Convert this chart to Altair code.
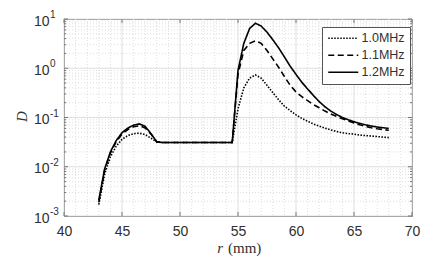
import altair as alt
import pandas as pd

# ---------------- data ----------------
r_mm = [43.0, 43.5, 44.0, 44.5, 45.0, 45.5, 46.0, 46.5, 47.0, 47.5,
        48.0, 48.5, 49.0, 49.5, 50.0, 50.5, 51.0, 51.5, 52.0, 52.5,
        53.0, 53.5, 54.0, 54.5, 55.0, 55.5, 56.0, 56.5, 57.0, 57.5,
        58.0, 58.5, 59.0, 59.5, 60.0, 60.5, 61.0, 61.5, 62.0, 62.5,
        63.0, 63.5, 64.0, 64.5, 65.0, 65.5, 66.0, 66.5, 67.0, 67.5, 68.0]

d_10 = [0.0017, 0.0070, 0.016, 0.026, 0.036, 0.043, 0.047, 0.048, 0.045, 0.038,
        0.032, 0.031, 0.031, 0.031, 0.031, 0.031, 0.031, 0.031, 0.031, 0.031,
        0.031, 0.031, 0.031, 0.031, 0.15, 0.40, 0.63, 0.73, 0.63, 0.45,
        0.32, 0.23, 0.17, 0.138, 0.113, 0.096, 0.084, 0.074, 0.067, 0.061,
        0.056, 0.052, 0.049, 0.047, 0.046, 0.044, 0.043, 0.042, 0.041, 0.040, 0.039]

d_11 = [0.0019, 0.0085, 0.019, 0.032, 0.046, 0.057, 0.065, 0.068, 0.061, 0.046,
        0.032, 0.031, 0.031, 0.031, 0.031, 0.031, 0.031, 0.031, 0.031, 0.031,
        0.031, 0.031, 0.031, 0.031, 0.75, 2.3, 3.2, 3.6, 3.2, 2.3,
        1.55, 1.05, 0.68, 0.45, 0.33, 0.265, 0.22, 0.183, 0.158, 0.135,
        0.118, 0.105, 0.094, 0.085, 0.077, 0.071, 0.066, 0.062, 0.059, 0.057, 0.055]

d_12 = [0.0021, 0.0090, 0.020, 0.034, 0.049, 0.061, 0.070, 0.074, 0.066, 0.047,
        0.032, 0.031, 0.031, 0.031, 0.031, 0.031, 0.031, 0.031, 0.031, 0.031,
        0.031, 0.031, 0.031, 0.031, 0.9, 3.2, 6.4, 8.2, 7.2, 5.4,
        3.8, 2.6, 1.7, 1.1, 0.75, 0.52, 0.38, 0.28, 0.21, 0.165,
        0.135, 0.115, 0.100, 0.090, 0.082, 0.076, 0.071, 0.067, 0.064, 0.062, 0.060]

series_names = ["1.0MHz", "1.1MHz", "1.2MHz"]

x_major = [40, 45, 50, 55, 60, 65, 70]
x_minor = [41, 42, 43, 44, 46, 47, 48, 49, 51, 52, 53, 54,
           56, 57, 58, 59, 61, 62, 63, 64, 66, 67, 68, 69]
y_major = [0.001, 0.01, 0.1, 1, 10]
y_exp = ["-3", "-2", "-1", "0", "1"]
y_minor = [m * 10.0 ** k for k in (-3, -2, -1, 0) for m in range(2, 10)]

# ---------------- tables ----------------
rows = []
for name, vals in zip(series_names, [d_10, d_11, d_12]):
    for r, d in zip(r_mm, vals):
        rows.append({"r": r, "D": d, "f": name})
df = pd.DataFrame(rows)
df_xmaj = pd.DataFrame({"xv": x_major})
df_xmin = pd.DataFrame({"xv": x_minor})
df_ymaj = pd.DataFrame({"yv": y_major, "e": y_exp})
df_ymin = pd.DataFrame({"yv": y_minor})

W, H = 348, 197
GRID = "#dedede"
FRAME = "#767676"
TXT = "#303030"

xs = alt.Scale(domain=[40, 70], nice=False, zero=False)
ys = alt.Scale(type="log", domain=[0.001, 10], nice=False)

x_axis = alt.Axis(values=x_major, grid=False, domain=False, ticks=False,
                  labelFont="Liberation Sans", labelFontSize=14, labelColor=TXT,
                  labelPadding=8, title=None, labelFlush=False)
y_axis = alt.Axis(values=y_major, labelExpr="'10'", grid=False, domain=False, ticks=False,
                  labelFont="Liberation Sans", labelFontSize=14, labelColor=TXT,
                  labelPadding=15, labelOffset=2, title=None, labelFlush=False)


def X(field):
    return alt.X(field, scale=xs, axis=x_axis, title=None)


def Y(field):
    return alt.Y(field, scale=ys, axis=y_axis, title=None)


x_minor_grid = alt.Chart(df_xmin).mark_rule(color=GRID, strokeDash=[1, 2], strokeWidth=1).encode(
    x=X("xv:Q"))
y_minor_grid = alt.Chart(df_ymin).mark_rule(color=GRID, strokeDash=[1, 2], strokeWidth=1).encode(
    y=Y("yv:Q"))
x_major_grid = alt.Chart(df_xmaj).mark_rule(color=GRID, strokeWidth=1).encode(
    x=X("xv:Q"))
y_major_grid = alt.Chart(df_ymaj).mark_rule(color=GRID, strokeWidth=1).encode(
    y=Y("yv:Q"))

# inward ticks (box style)
tick_b = alt.Chart(df_xmaj).mark_rule(color=FRAME).encode(
    x=X("xv:Q"), y=alt.value(H), y2=alt.value(H - 4))
tick_t = alt.Chart(df_xmaj).mark_rule(color=FRAME).encode(
    x=X("xv:Q"), y=alt.value(0), y2=alt.value(4))
tick_l = alt.Chart(df_ymaj).mark_rule(color=FRAME).encode(
    y=Y("yv:Q"), x=alt.value(0), x2=alt.value(4))
tick_r = alt.Chart(df_ymaj).mark_rule(color=FRAME).encode(
    y=Y("yv:Q"), x=alt.value(W), x2=alt.value(W - 4))
mtick_l = alt.Chart(df_ymin).mark_rule(color=FRAME).encode(
    y=Y("yv:Q"), x=alt.value(0), x2=alt.value(2))
mtick_r = alt.Chart(df_ymin).mark_rule(color=FRAME).encode(
    y=Y("yv:Q"), x=alt.value(W), x2=alt.value(W - 2))

lines = alt.Chart(df).mark_line(color="black", strokeWidth=1.6, clip=True).encode(
    x=X("r:Q"),
    y=Y("D:Q"),
    strokeDash=alt.StrokeDash(
        "f:N",
        scale=alt.Scale(domain=series_names, range=[[1.5, 1.5], [6, 3.5], [1, 0]]),
        legend=alt.Legend(title=None, orient="none", legendX=258, legendY=8,
                          symbolType="M-3,0L3,0", symbolSize=100, symbolStrokeWidth=1.6,
                          symbolStrokeColor="black", symbolFillColor="transparent",
                          symbolOffset=10,
                          labelFont="Liberation Sans", labelFontSize=12.5, labelColor=TXT,
                          labelOffset=12, rowPadding=4, padding=5,
                          strokeColor="#555", fillColor="white", cornerRadius=0)),
    detail="f:N",
    order="r:Q",
)

exps = alt.Chart(df_ymaj).mark_text(align="left", baseline="middle", dy=-4,
                                   font="Liberation Sans", fontSize=10, color=TXT).encode(
    y=Y("yv:Q"), x=alt.value(-14), text="e:N")

title_d = alt.Chart(df_ymaj).transform_filter("datum.yv == 0.1").mark_text(
    text="D", font="Liberation Serif", fontStyle="italic", fontSize=15, angle=270,
    align="center", baseline="middle", color=TXT).encode(
    x=alt.value(-42), y=alt.value(H / 2 - 1))
title_r = alt.Chart(df_ymaj).transform_filter("datum.yv == 0.1").mark_text(
    text="r", font="Liberation Serif", fontStyle="italic", fontSize=15,
    align="right", baseline="alphabetic", color=TXT).encode(
    x=alt.value(W / 2 - 15), y=alt.value(H + 37))
title_mm = alt.Chart(df_ymaj).transform_filter("datum.yv == 0.1").mark_text(
    text="(mm)", font="Liberation Serif", fontSize=15,
    align="left", baseline="alphabetic", color=TXT).encode(
    x=alt.value(W / 2 - 10), y=alt.value(H + 37))

chart = alt.layer(
    x_minor_grid, y_minor_grid, x_major_grid, y_major_grid,
    tick_b, tick_t, tick_l, tick_r, mtick_l, mtick_r,
    lines, exps, title_d, title_r, title_mm,
).properties(
    width=W, height=H,
    autosize=alt.AutoSizeParams(type="none"),
    padding={"left": 56, "top": 11, "right": 15, "bottom": 42},
    background="white",
).configure_view(stroke=FRAME, strokeWidth=1)

chart.save("out.html", embed_options={"renderer": "svg", "actions": False})
